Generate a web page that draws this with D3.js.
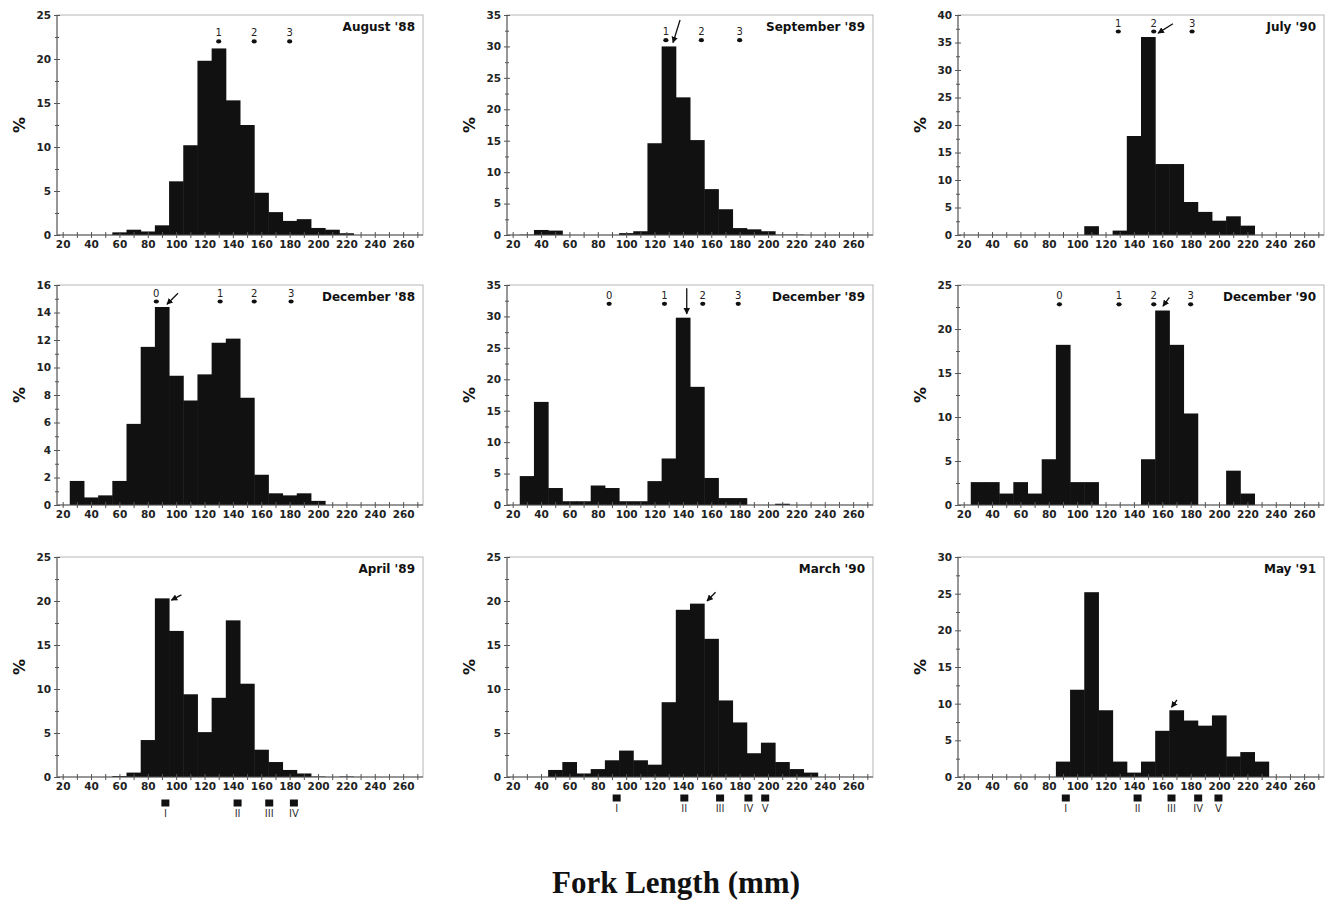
<!DOCTYPE html>
<html>
<head>
<meta charset="utf-8">
<script src="https://cdn.jsdelivr.net/npm/d3@7"></script>
<style>
  body { margin: 0; background: #fff; }
  svg { display: block; }
  .tick text { font-family: "DejaVu Sans", sans-serif; font-weight: bold; font-size: 10.5px; fill: #222; }
  .panel-title { font-family: "DejaVu Sans", sans-serif; font-weight: bold; font-size: 12px; fill: #111; }
  .pct { font-family: "DejaVu Sans", sans-serif; font-weight: bold; font-size: 16px; fill: #111; }
  .mark-label { font-family: "DejaVu Sans", sans-serif; font-size: 10px; fill: #222; }
  .roman { font-family: "DejaVu Sans", sans-serif; font-size: 10px; fill: #333; }
  .big-label { font-family: "Liberation Serif", "Times New Roman", serif; font-weight: bold; font-size: 31px; fill: #111; }
</style>
</head>
<body>
<svg id="chart" width="1329" height="902"></svg>
<script>

/*** DATA ***/

// bin centres (mm), 10 mm bins
let bins = [30, 40, 50, 60, 70, 80, 90, 100, 110, 120, 130, 140, 150, 160, 170, 180, 190, 200, 210, 220, 230];

let aug88 = [0, 0, 0, 0.3, 0.6, 0.4, 1.1, 6.1, 10.2, 19.8, 21.2, 15.3, 12.5, 4.8, 2.6, 1.6, 1.8, 0.8, 0.6, 0.2, 0];
let sep89 = [0.05, 0.8, 0.7, 0, 0, 0, 0, 0.3, 0.6, 14.6, 30.0, 21.9, 15.1, 7.3, 4.1, 1.1, 0.9, 0.6, 0.05, 0.05, 0];
let jul90 = [0, 0, 0, 0, 0, 0, 0, 0, 1.6, 0, 0.8, 18.0, 36.0, 12.9, 12.9, 6.0, 4.2, 2.6, 3.4, 1.7, 0];
let dec88 = [1.75, 0.55, 0.7, 1.75, 5.9, 11.5, 14.4, 9.4, 7.6, 9.5, 11.8, 12.1, 7.8, 2.2, 0.85, 0.7, 0.85, 0.3, 0, 0, 0];
let dec89 = [4.6, 16.4, 2.7, 0.6, 0.6, 3.1, 2.7, 0.6, 0.6, 3.8, 7.4, 29.8, 18.8, 4.3, 1.1, 1.1, 0, 0, 0.2, 0, 0];
let dec90 = [2.6, 2.6, 1.3, 2.6, 1.3, 5.2, 18.2, 2.6, 2.6, 0, 0, 0, 5.2, 22.1, 18.2, 10.4, 0, 0, 3.9, 1.3, 0];
let apr89 = [0, 0, 0, 0.1, 0.5, 4.2, 20.3, 16.6, 9.4, 5.1, 9.0, 17.8, 10.6, 3.1, 1.7, 0.8, 0.4, 0.05, 0, 0.05, 0];
let mar90 = [0, 0, 0.8, 1.7, 0.4, 0.9, 1.9, 3.0, 1.9, 1.4, 8.5, 19.0, 19.7, 15.7, 8.7, 6.2, 2.7, 3.9, 1.7, 0.9, 0.5];
let may91 = [0, 0, 0, 0, 0, 0, 2.1, 11.9, 25.2, 9.1, 2.1, 0.6, 2.1, 6.3, 9.1, 7.7, 7.0, 8.4, 2.8, 3.4, 2.1];

let titles = ["August '88", "September '89", "July '90", "December '88", "December '89", "December '90", "April '89", "March '90", "May '91"];
let yMax   = [25, 35, 40, 16, 35, 25, 25, 25, 30];
let yStep  = [5, 5, 5, 2, 5, 5, 5, 5, 5];

// age-class marks (dot + label) per panel: positions (mm) and height (%)
let ageLabels_13 = ["1", "2", "3"];
let ageLabels_03 = ["0", "1", "2", "3"];
let ageX_aug88 = [130, 155, 180];
let ageX_sep89 = [128, 153, 180];
let ageX_jul90 = [129, 154, 181];
let ageX_dec88 = [86, 131, 155, 181];
let ageX_dec89 = [88, 127, 154, 179];
let ageX_dec90 = [87.5, 129.5, 154, 180];
let ageY = [22, 31, 37, 14.8, 32, 22.8];

// arrows per panel: [x1, y1, x2, y2] in data units
let arrows = [
    null,
    [138, 34.2, 133, 30.6],
    [167.5, 38.4, 157, 36.7],
    [101.3, 15.4, 93.5, 14.6],
    [142.7, 34.5, 142.7, 30.4],
    [165, 23.6, 160.5, 22.6],
    [103.7, 20.7, 96.6, 20.1],
    [163, 21.0, 157, 20.0],
    [170.3, 10.5, 166.5, 9.5]
];

// cohort squares below the x axis (bottom row)
let romanLabels = ["I", "II", "III", "IV", "V"];
let cohortX_apr89 = [92.4, 143.3, 165.6, 183];
let cohortX_mar90 = [93.3, 141, 166.2, 186.2, 198];
let cohortX_may91 = [92, 142.6, 166.5, 185.3, 199.6];

/*** LAYOUT ***/

let svg = d3.select("#chart");
let col_x = [57, 507, 958],
    row_y = [15, 285, 557],
    pw = 366,
    ph = 220;

let series = [aug88, sep89, jul90, dec88, dec89, dec90, apr89, mar90, may91];
let ageX = [ageX_aug88, ageX_sep89, ageX_jul90, ageX_dec88, ageX_dec89, ageX_dec90];
let cohorts = [null, null, null, null, null, null, cohortX_apr89, cohortX_mar90, cohortX_may91];
let cohortOffsets = [0, 0, 0, 0, 0, 0, 26, 21, 21];

svg.append("defs").append("marker")
    .attr("id", "arrowhead")
    .attr("viewBox", "0 0 10 10")
    .attr("refX", 9).attr("refY", 5)
    .attr("markerWidth", 5).attr("markerHeight", 5)
    .attr("orient", "auto")
    .append("path")
    .attr("d", "M0,0 L10,5 L0,10 z")
    .attr("fill", "#111");

function is_major(d, step) {
    return Math.abs(d / step - Math.round(d / step)) < 1e-6;
}

function draw_panel(i) {
    let left = col_x[i % 3], top = row_y[Math.floor(i / 3)];
    let g = svg.append("g").attr("transform", `translate(${left},${top})`);

    let x = d3.scaleLinear().domain([16, 274]).range([0, pw]);
    let y = d3.scaleLinear().domain([0, yMax[i]]).range([ph, 0]);

    // frame
    g.append("rect")
        .attr("width", pw).attr("height", ph)
        .attr("fill", "none").attr("stroke", "#b5b5b5").attr("stroke-width", 1);

    // bars
    g.selectAll("rect.bar")
        .data(bins.map((b, k) => ({ mid: b, v: series[i][k] })).filter((d) => d.v > 0)).enter()
        .append("rect")
        .classed("bar", true)
        .attr("x", (d) => x(d.mid - 5))
        .attr("width", (d) => x(d.mid + 5) - x(d.mid - 5) + 0.5)
        .attr("y", (d) => y(d.v))
        .attr("height", (d) => ph - y(d.v))
        .attr("fill", "#111");

    // x axis
    let xAxis = g.append("g")
        .attr("transform", `translate(0,${ph})`)
        .call(d3.axisBottom(x)
            .tickValues(d3.range(20, 271, 10))
            .tickSize(3)
            .tickFormat((d) => d % 20 === 0 && d <= 260 ? d : ""));
    xAxis.select(".domain").attr("stroke", "#555").attr("d", `M0,0H${pw}`);
    xAxis.selectAll(".tick line").attr("y1", -3).attr("y2", 3).attr("stroke", "#555");
    xAxis.selectAll(".tick text").attr("y", 6).attr("dy", "0.71em");

    // y axis
    let step = yStep[i];
    let yAxis = g.append("g")
        .call(d3.axisLeft(y)
            .tickValues(d3.range(0, yMax[i] + 0.01, step / 2))
            .tickSize(3)
            .tickFormat((d) => is_major(d, step) ? d : ""));
    yAxis.select(".domain").attr("stroke", "#555").attr("d", `M0,0V${ph}`);
    yAxis.selectAll(".tick line")
        .attr("x1", (d) => is_major(d, step) ? 3 : 2)
        .attr("x2", (d) => is_major(d, step) ? -3 : -2)
        .attr("stroke", "#555");
    yAxis.selectAll(".tick text").attr("x", -6);

    // % label
    g.append("text")
        .classed("pct", true)
        .attr("transform", `translate(${-38},${ph / 2}) rotate(-90)`)
        .attr("text-anchor", "middle")
        .attr("dy", "0.35em")
        .text("%");

    // title
    g.append("text")
        .classed("panel-title", true)
        .attr("x", pw - 8).attr("y", 16)
        .attr("text-anchor", "end")
        .text(titles[i]);

    // age marks
    if (i < 6) {
        let labels = ageX[i].length === 3 ? ageLabels_13 : ageLabels_03;
        let marks = ageX[i].map((v, k) => ({ x: v, label: labels[k] }));
        g.selectAll("ellipse.age")
            .data(marks).enter()
            .append("ellipse")
            .attr("cx", (d) => x(d.x)).attr("cy", y(ageY[i]))
            .attr("rx", 2.6).attr("ry", 2.1)
            .attr("fill", "#111");
        g.selectAll("text.mark-label")
            .data(marks).enter()
            .append("text")
            .classed("mark-label", true)
            .attr("x", (d) => x(d.x)).attr("y", y(ageY[i]) - 5)
            .attr("text-anchor", "middle")
            .text((d) => d.label);
    }

    // arrow
    if (arrows[i]) {
        let a = arrows[i];
        g.append("line")
            .attr("x1", x(a[0])).attr("y1", y(a[1]))
            .attr("x2", x(a[2])).attr("y2", y(a[3]))
            .attr("stroke", "#111").attr("stroke-width", 1.3)
            .attr("marker-end", "url(#arrowhead)");
    }

    // cohort squares
    if (cohorts[i]) {
        let cs = cohorts[i].map((v, k) => ({ x: v, label: romanLabels[k] }));
        let sy = ph + cohortOffsets[i];
        g.selectAll("rect.cohort")
            .data(cs).enter()
            .append("rect")
            .attr("x", (d) => x(d.x) - 4).attr("y", sy - 3.5)
            .attr("width", 8).attr("height", 7)
            .attr("fill", "#111");
        g.selectAll("text.roman")
            .data(cs).enter()
            .append("text")
            .classed("roman", true)
            .attr("x", (d) => x(d.x)).attr("y", sy + 14)
            .attr("text-anchor", "middle")
            .text((d) => d.label);
    }
}

for (let i = 0; i < 9; i++) draw_panel(i);

svg.append("text")
    .classed("big-label", true)
    .attr("x", 676).attr("y", 893)
    .attr("text-anchor", "middle")
    .text("Fork Length (mm)");

</script>
</body>
</html>
